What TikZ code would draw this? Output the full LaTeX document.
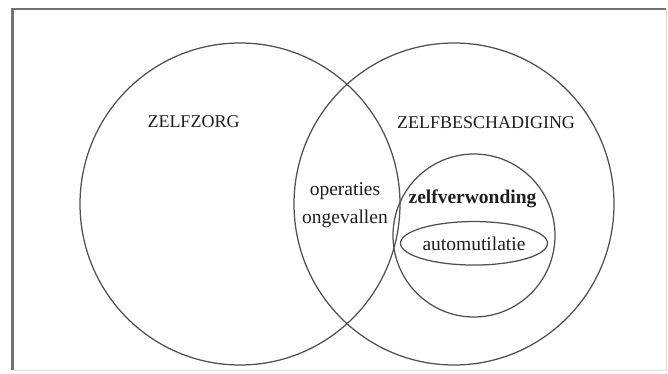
\documentclass[tikz,border=0pt]{standalone}
\usepackage{fontspec}
\setmainfont{Liberation Serif}
\usepackage{xcolor}
\usetikzlibrary{shapes.geometric}
\definecolor{vennline}{RGB}{80,80,80}
\definecolor{framegray}{RGB}{115,115,115}
\definecolor{labeltext}{RGB}{30,30,30}

\begin{document}
\begin{tikzpicture}[
  x=1pt, y=-1pt,
  set/.style={ellipse, draw=vennline, line width=1.25pt, inner sep=0pt},
  caps/.style={font=\fontsize{18}{20}\selectfont, anchor=base, text=labeltext},
  lower/.style={font=\fontsize{19.5}{22}\selectfont, anchor=base, text=labeltext}
]
\useasboundingbox (0,0) rectangle (668,374);
% frame
\draw[framegray, line width=2.5pt] (12.7,370) -- (12.7,9) -- (666,9);
\draw[framegray!25, line width=1pt] (666,9) -- (666,370) -- (12.7,370);
% sets
\node[set, minimum width=320pt, minimum height=322pt] (zorg) at (240,204) {};
\node[set, minimum width=320pt, minimum height=322pt] (schade) at (454,204) {};
\node[set, minimum width=162pt, minimum height=163pt] (verwond) at (474,235.5) {};
\node[set, minimum width=147pt, minimum height=43.5pt] (auto) at (474,243.3) {};
% labels
\node[caps] (zorglabel) at (193.5,128) {ZELFZORG};
\node[caps] (schadelabel) at (486,128.3) {ZELFBESCHADIGING};
\node[lower] (operaties) at (345,195) {operaties};
\node[lower] (ongevallen) at (345,223.3) {ongevallen};
\node[lower, font=\fontsize{19.5}{22}\selectfont\bfseries] (verwondlabel) at (472.5,203) {zelfverwonding};
\node[lower] (autolabel) at (474,250.7) {automutilatie};
\end{tikzpicture}
\end{document}
